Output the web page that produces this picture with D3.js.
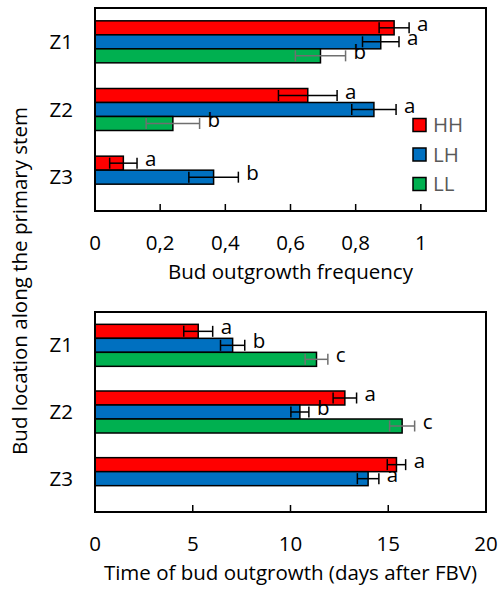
<!DOCTYPE html>
<html lang='en'>
<script src="https://d3js.org/d3.v7.min.js"></script>
<style>
body { margin:0; background:#fff; }
text { font-family: "Open Sans", sans-serif; font-size: 20.5px; }
</style>
<body>
<svg id="chart" width="500" height="593"></svg>
<script>

var zones = ["Z1","Z2","Z3"];
var groups = ["HH","LH","LL"];
var colors = ["#ff0000","#0070c0","#00b050"];

// bud outgrowth frequency (null = no bar)
var freqHH = [0.918, 0.653, 0.087];
var freqLH = [0.877, 0.856, 0.364];
var freqLL = [0.692, 0.239, null];
var freqErrHH = [0.046, 0.090, 0.042];
var freqErrLH = [0.056, 0.068, 0.076];
var freqErrLL = [0.077, 0.082, null];
var freqLetHH = ["a","a","a"];
var freqLetLH = ["a","a","b"];
var freqLetLL = ["b","b",null];
var freqTicks = [0, 0.2, 0.4, 0.6, 0.8, 1];

// time of bud outgrowth
var timeHH = [5.28, 12.78, 15.42];
var timeLH = [7.04, 10.48, 13.97];
var timeLL = [11.33, 15.71, null];
var timeErrHH = [0.74, 0.60, 0.47];
var timeErrLH = [0.62, 0.46, 0.55];
var timeErrLL = [0.58, 0.64, null];
var timeLetHH = ["a","a","a"];
var timeLetLH = ["b","b","a"];
var timeLetLL = ["c","c",null];
var timeTicks = [0, 5, 10, 15, 20];

var svg = d3.select("#chart");

function panel(top, height, maxX, ticks, fmt, vals, errs, lets, title)
{
	var left = 95, right = 486;
	var x = d3.scaleLinear().domain([0, maxX]).range([left, right]);
	var y = d3.scaleBand().domain(zones).range([top, top + height]);
	var bh = 14;
	var g = svg.append("g");

	zones.forEach(function(z, i){
		groups.forEach(function(gr, j){
			var v = vals[j][i];
			if (v == null) return;
			var e = errs[j][i];
			var y0 = y(z) + (y.bandwidth() - 3*bh)/2 + j*bh;
			var cy = y0 + bh/2;
			g.append("rect")
				.attr("x", x(0)).attr("y", y0)
				.attr("width", x(v) - x(0)).attr("height", bh)
				.attr("fill", colors[j])
				.attr("stroke", "#000").attr("stroke-width", 1.5);
			var ec = j == 2 ? "#6f6f6f" : "#000";
			g.append("line")
				.attr("x1", x(v - e)).attr("x2", x(v + e))
				.attr("y1", cy).attr("y2", cy)
				.attr("stroke", ec).attr("stroke-width", 1.5);
			[v - e, v + e].forEach(function(t){
				g.append("line")
					.attr("x1", x(t)).attr("x2", x(t))
					.attr("y1", cy - 5.5).attr("y2", cy + 5.5)
					.attr("stroke", ec).attr("stroke-width", 1.5);
			});
			g.append("text")
				.attr("x", x(v + e) + 8).attr("y", cy + 3)
				.text(lets[j][i]);
		});
	});

	// frame
	g.append("rect")
		.attr("x", left).attr("y", top)
		.attr("width", right - left).attr("height", height)
		.attr("fill", "none").attr("stroke", "#000").attr("stroke-width", 2);

	// ticks and labels
	ticks.forEach(function(t){
		if (t > 0 && t < maxX)
			g.append("line")
				.attr("x1", x(t)).attr("x2", x(t))
				.attr("y1", top + height).attr("y2", top + height - 7)
				.attr("stroke", "#000").attr("stroke-width", 1.5);
		g.append("text")
			.attr("x", x(t)).attr("y", top + height + 39)
			.attr("text-anchor", "middle")
			.text(fmt(t));
	});

	zones.forEach(function(z){
		g.append("text")
			.attr("x", 73).attr("y", y(z) + y.bandwidth()/2 + 7)
			.attr("text-anchor", "end")
			.text(z);
	});

	g.append("text")
		.attr("x", (left + right)/2).attr("y", top + height + 68)
		.attr("text-anchor", "middle")
		.text(title);
}

panel(8, 203, 1.2, freqTicks, function(t){ return String(t).replace(".", ","); },
	[freqHH, freqLH, freqLL], [freqErrHH, freqErrLH, freqErrLL],
	[freqLetHH, freqLetLH, freqLetLL], "Bud outgrowth frequency");

panel(312, 200, 20, timeTicks, function(t){ return String(t); },
	[timeHH, timeLH, timeLL], [timeErrHH, timeErrLH, timeErrLL],
	[timeLetHH, timeLetLH, timeLetLL], "Time of bud outgrowth (days after FBV)");

// legend
var leg = svg.append("g");
groups.forEach(function(gr, i){
	var ly = 125 + i*29.5;
	leg.append("rect")
		.attr("x", 413).attr("y", ly - 6.5)
		.attr("width", 13).attr("height", 13)
		.attr("fill", colors[i]).attr("stroke", "#000").attr("stroke-width", 1.5);
	leg.append("text")
		.attr("x", 433).attr("y", ly + 7)
		.attr("fill", "#595959")
		.text(gr);
});

// shared y title
svg.append("text")
	.attr("transform", "translate(27,281) rotate(-90)")
	.attr("text-anchor", "middle")
	.text("Bud location along the primary stem");

</script>
</body>
</html>
